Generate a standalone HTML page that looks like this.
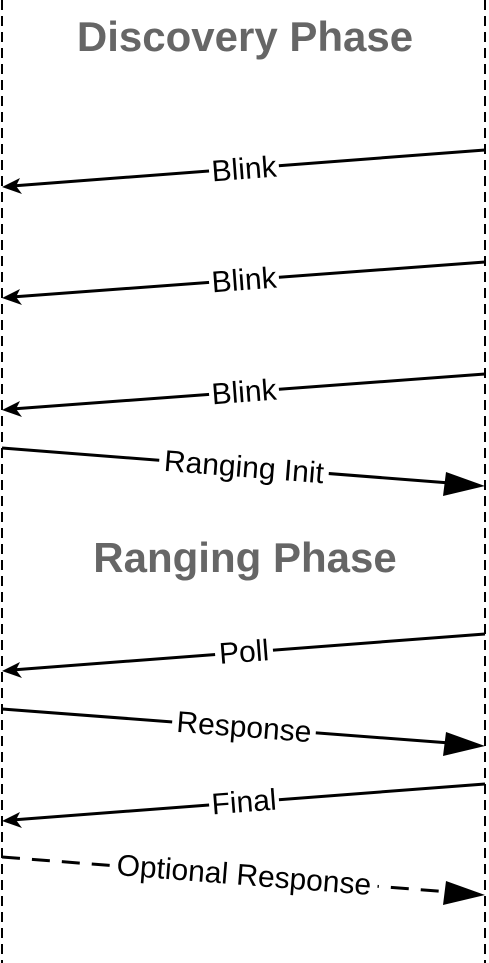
<!DOCTYPE html>
<html><head><meta charset="utf-8"><style>
html,body{margin:0;padding:0;background:#fff}
svg{display:block}
</style></head><body>
<svg width="489" height="963" viewBox="0 0 489 963" xmlns="http://www.w3.org/2000/svg">
<g stroke="#000" stroke-width="2" stroke-dasharray="10,6">
<line x1="2" y1="0" x2="2" y2="963"/>
<line x1="485" y1="0" x2="485" y2="963"/>
</g>
<g font-family="Liberation Sans, sans-serif" font-weight="bold" fill="#666" font-size="42" text-anchor="middle">
<text x="245" y="51">Discovery Phase</text>
<text x="245" y="572">Ranging Phase</text>
</g>
<g stroke="#000" stroke-width="3" fill="none">
<line x1="485" y1="150" x2="12" y2="186"/>
<line x1="485" y1="262" x2="12" y2="297"/>
<line x1="485" y1="374" x2="12" y2="409"/>
<line x1="485" y1="634" x2="12" y2="670"/>
<line x1="485" y1="784" x2="12" y2="820"/>
<line x1="2" y1="448" x2="450" y2="483"/>
<line x1="2" y1="709" x2="450" y2="743"/>
<line x1="2" y1="857" x2="450" y2="892" stroke-dasharray="18,12"/>
</g>
<g fill="#000">
<polygon points="2,187 20,178 16,186 22,194"/>
<polygon points="2,298 20,289 16,297 22,305"/>
<polygon points="2,410 20,401 16,409 22,417"/>
<polygon points="2,671 20,662 16,670 22,678"/>
<polygon points="2,821 20,812 16,820 22,828"/>
<polygon points="485,486 446,472 443,496"/>
<polygon points="485,746 446,732 443,756"/>
<polygon points="485,895 446,881 443,905"/>
</g>
<g font-family="Liberation Sans, sans-serif" font-size="30" text-anchor="middle" fill="#000">
<g transform="translate(244,169) rotate(-4.4)"><rect x="-35" y="-15" width="70" height="30" fill="#fff"/><text y="10">Blink</text></g>
<g transform="translate(244,280) rotate(-4.3)"><rect x="-35" y="-15" width="70" height="30" fill="#fff"/><text y="10">Blink</text></g>
<g transform="translate(244,392) rotate(-4.3)"><rect x="-35" y="-15" width="70" height="30" fill="#fff"/><text y="10">Blink</text></g>
<g transform="translate(244,467) rotate(4.5)"><rect x="-85" y="-15" width="170" height="30" fill="#fff"/><text y="10">Ranging Init</text></g>
<g transform="translate(244,652) rotate(-4.4)"><rect x="-29" y="-15" width="58" height="30" fill="#fff"/><text y="10">Poll</text></g>
<g transform="translate(244,727) rotate(4.4)"><rect x="-72" y="-15" width="144" height="30" fill="#fff"/><text y="10">Response</text></g>
<g transform="translate(244,802) rotate(-4.4)"><rect x="-35" y="-15" width="70" height="30" fill="#fff"/><text y="10">Final</text></g>
<g transform="translate(244,875) rotate(4.5)"><rect x="-134" y="-15" width="268" height="30" fill="#fff"/><text y="10">Optional Response</text></g>
</g>
</svg>
</body></html>
